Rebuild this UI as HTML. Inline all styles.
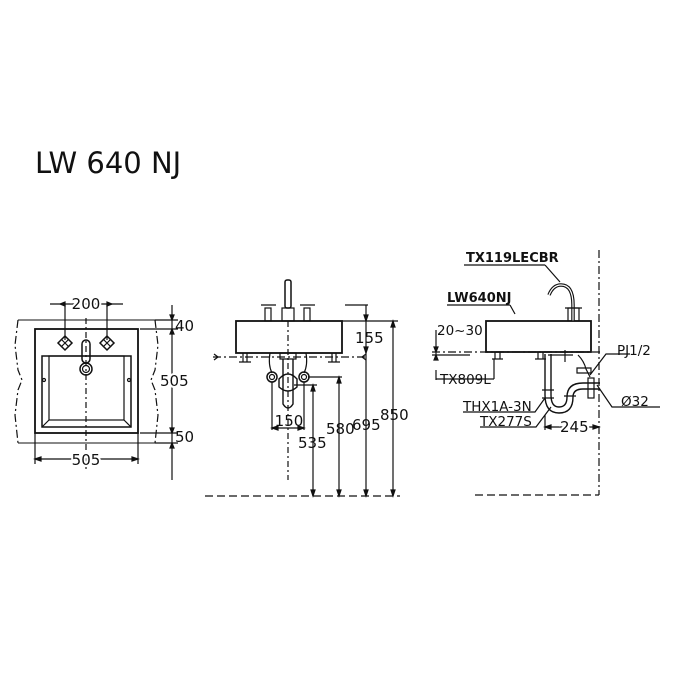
<!DOCTYPE html>
<html><head><meta charset="utf-8"><style>
html,body{margin:0;padding:0;background:#fff}
svg{display:block}
text{font-family:"DejaVu Sans","Liberation Sans",sans-serif;fill:#111}
</style></head><body>
<svg width="700" height="700" viewBox="0 0 700 700" xmlns="http://www.w3.org/2000/svg">
<text x="35" y="173" font-size="29">LW 640 NJ</text>

<g stroke="#111" fill="none" stroke-width="1.2">
<!-- LEFT VIEW -->
<path d="M18 320 H155 M18 443 H155" stroke-width="1"/>
<path d="M18 320 L15 345 L18 370 L22 380 L18 390 L15 415 L18 443" stroke-dasharray="8,3,2,3"/>
<path d="M155 320 L158 345 L155 370 L151 380 L155 390 L158 415 L155 443" stroke-dasharray="8,3,2,3"/>
<rect x="35" y="329" width="103" height="104" stroke-width="1.8"/>
<rect x="42" y="356" width="89" height="71" stroke-width="1.5"/>
<rect x="49" y="356" width="75" height="64"/>
<path d="M42 427 L49 420 M131 427 L124 420"/>
<path d="M86 318 V470" stroke-dasharray="6,3,2,3"/>
<path d="M65 304 V340 M107 304 V340"/>
<path d="M50 304 H123"/>
<path d="M60 304 l5 -2 v4z M112 304 l-5 -2 v4z" fill="#111"/>
<path d="M58 343 l7 -7 l7 7 l-7 7z M100 343 l7 -7 l7 7 l-7 7z" stroke-width="1.5"/>
<path d="M61 339 l8 8 M69 339 l-8 8 M103 339 l8 8 M111 339 l-8 8"/>
<rect x="82" y="340" width="8" height="23" rx="4" stroke-width="1.5"/>
<circle cx="86" cy="369" r="6" stroke-width="1.5"/><circle cx="86" cy="369" r="3.5"/>
<circle cx="44" cy="380" r="1.5"/><circle cx="129" cy="380" r="1.5"/>
<path d="M35 433 V464 M138 433 V464 M35 459 H138"/>
<path d="M35 459 l6 -2 v4z M138 459 l-6 -2 v4z" fill="#111"/>
<path d="M140 329 H178 M140 433 H178 M155 320 H178 M155 443 H178"/>
<path d="M172 305 V480"/>
<path d="M172 320 l-2 -5 h4z M172 329 l-2 5 h4z M172 433 l-2 -5 h4z M172 443 l-2 5 h4z" fill="#111"/>

<!-- MIDDLE VIEW -->
<rect x="236" y="321" width="106" height="32" stroke-width="1.8"/>
<path d="M213 357 H366" stroke-dasharray="8,3,2,3"/>
<path d="M214 354 l4 3 l-4 3 M366 354 l-4 3 l4 3"/>
<rect x="285" y="280" width="6" height="28" rx="2" stroke-width="1.5"/>
<rect x="282" y="308" width="12" height="13"/>
<path d="M261 305 H276 M300 305 H315"/>
<rect x="265" y="308" width="6" height="13"/><rect x="304" y="308" width="6" height="13"/>
<path d="M288 321 V480" stroke-dasharray="6,3,2,3"/>
<path d="M243 353 v9 M247 353 v9 M239 362 h12 M332 353 v9 M336 353 v9 M328 362 h12"/>
<path d="M280 353 h16 v6 h-16z"/>
<path d="M283 359 v45 q5 8 10 0 v-45" stroke-width="1.4"/>
<path d="M279 379 q9 -10 18 0 v8 q-9 8 -18 0z" stroke-width="1.4"/>
<path d="M270 353 q-2 12 2 20 M306 353 q2 12 -2 20"/>
<circle cx="272" cy="377" r="5" stroke-width="1.5"/><circle cx="272" cy="377" r="2.5"/>
<circle cx="304" cy="377" r="5" stroke-width="1.5"/><circle cx="304" cy="377" r="2.5"/>
<path d="M272 382 V430 M304 382 V430 M272 428 H304"/>
<path d="M272 428 l6 -2 v4z M304 428 l-6 -2 v4z" fill="#111"/>
<path d="M205 496 H400" stroke-dasharray="8,4"/>
<path d="M342 321 H398 M308 377 H342 M294 385 H317 M345 305 H368"/>
<path d="M393 321 V496 M366 305 V496 M339 377 V496 M313 385 V496"/>
<path d="M393 321 l-2 6 h4z M393 496 l-2 -6 h4z M366 496 l-2 -6 h4z M366 353 l-2 -6 h4z M366 321 l-2 -6 h4z M339 377 l-2 6 h4z M339 496 l-2 -6 h4z M313 385 l-2 6 h4z M313 496 l-2 -6 h4z" fill="#111"/>

<!-- RIGHT VIEW -->
<rect x="486" y="321" width="105" height="31" stroke-width="1.8"/>
<path d="M599 250 V495" stroke-dasharray="8,3,2,3"/>
<path d="M475 495 H599" stroke-dasharray="8,4"/>
<path d="M432 352 H600" stroke-dasharray="8,3,2,3"/>
<path d="M432 355 H470"/>
<path d="M436 330 V358 M436 370 V380"/>
<path d="M436 352 l-2 -5 h4z M436 355 l-2 5 h4z" fill="#111"/>
<path d="M573 321 V305 q0 -20 -12 -20 q-8 0 -12 10" stroke-width="3.5"/>
<path d="M573 321 V305 q0 -20 -12 -20 q-8 0 -12 10" stroke-width="1.2" stroke="#fff"/>
<rect x="568" y="308" width="11" height="13"/>
<path d="M565 308 h17"/>
<path d="M495 352 v7 M500 352 v7 M492 359 h11 M494 359 v20 M436 379 H494"/>
<path d="M538 352 v7 M543 352 v7 M535 359 h11 M548 355 h25 M565 350 v12"/>
<path d="M545 354 V395 q0 18 14 18 q14 0 14 -16 q0 -8 10 -8 H600 M551 354 V395 q0 12 8 12 q8 0 8 -10 q0 -14 16 -14 H600" stroke-width="1.4"/>
<path d="M542 390 h12 M542 398 h12 M564 396 h12"/>
<rect x="588" y="378" width="6" height="20"/>
<path d="M578 355 q6 6 8 14 l4 8 M577 368 h14 v5 h-14z"/>
<path d="M464 265 H545 M545 265 l15 17"/>
<path d="M447 305 H510 M510 305 l5 9"/>
<path d="M463 412 H535 l10 -14 M480 427 H536 l15 -20"/>
<path d="M590 375 l16 -21 H630 M597 385 l15 22 H660"/>
<path d="M545 415 V430 M545 427 H599"/>
<path d="M545 427 l6 -2 v4z M599 427 l-6 -2 v4z" fill="#111"/>
</g>

<g font-size="15">
<text x="86" y="309" text-anchor="middle" stroke="#fff" stroke-width="4" paint-order="stroke">200</text>
<text x="175" y="331">40</text>
<text x="160" y="386" stroke="#fff" stroke-width="4" paint-order="stroke">505</text>
<text x="175" y="442">50</text>
<text x="86" y="465" text-anchor="middle" stroke="#fff" stroke-width="4" paint-order="stroke">505</text>
<text x="355" y="343">155</text>
<text x="289" y="426" text-anchor="middle">150</text>
<text x="298" y="448">535</text>
<text x="326" y="434">580</text>
<text x="352" y="430">695</text>
<text x="380" y="420">850</text>
<text x="466" y="262" font-weight="bold" font-size="13">TX119LECBR</text>
<text x="447" y="302" font-weight="bold" font-size="13">LW640NJ</text>
<text x="437" y="335" font-size="13.5">20~30</text>
<text x="440" y="384" font-size="13.5">TX809L</text>
<text x="463" y="411" font-size="13.5">THX1A-3N</text>
<text x="480" y="426" font-size="13.5">TX277S</text>
<text x="560" y="432" stroke="#fff" stroke-width="4" paint-order="stroke">245</text>
<text x="617" y="355" font-size="13.5">PJ1/2</text>
<text x="621" y="406" font-size="13.5">Ø32</text>
</g>
</svg>
</body></html>
